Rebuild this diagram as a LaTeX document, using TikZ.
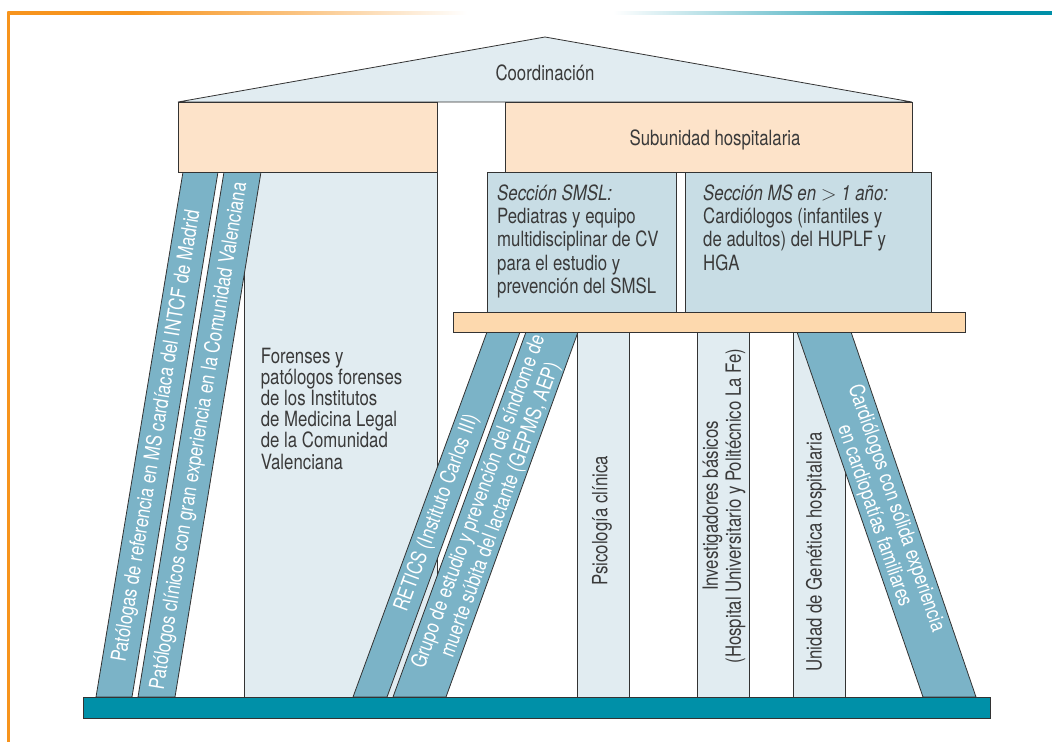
\documentclass[tikz,border=0pt]{standalone}
\usepackage{fontspec}
\setmainfont{TeX Gyre Heros}[FakeStretch=0.8]
\definecolor{forange}{HTML}{F7941D}
\definecolor{fteal}{HTML}{0090A8}
\definecolor{peach}{HTML}{FDE3C9}
\definecolor{plank}{HTML}{FDD9AE}
\definecolor{lightb}{HTML}{E1ECF1}
\definecolor{secb}{HTML}{C8DDE5}
\definecolor{slant}{HTML}{7BB3C7}
\definecolor{basec}{HTML}{0090A8}
\definecolor{lineg}{HTML}{333333}
\definecolor{textg}{HTML}{3A3A3A}
\pgfdeclarehorizontalshading{topbar}{100bp}{color(0bp)=(forange); color(25bp)=(forange); color(31bp)=(forange); color(39bp)=(forange!55!white); color(47bp)=(white); color(54bp)=(white); color(62bp)=(fteal!50!white); color(70bp)=(fteal); color(100bp)=(fteal)}
\tikzset{
  box/.style={draw=lineg, line width=0.8pt, line join=miter},
  txt/.style={inner sep=0pt, text=textg, font=\fontsize{21}{23}\selectfont},
  wtxt/.style={txt, text=white},
}
\begin{document}
\begin{tikzpicture}[x=1pt,y=-1pt]
\useasboundingbox (0,0) rectangle (1052,742);
\fill[white] (0,0) rectangle (1052,742);
% frame
\shade[shading=topbar] (7.3,11.9) rectangle (1052,14.8);
\fill[forange] (7.3,11.9) rectangle (10,742);
% roof
\filldraw[box, fill=lightb] (178,102) -- (545,37) -- (912,102) -- cycle;
% forenses column
\filldraw[box, fill=lightb] (244,172) rectangle (437,697);
% slanted left pillars
\filldraw[box, fill=slant] (183,172) -- (218,172) -- (132,697) -- (96,697) -- cycle;
\filldraw[box, fill=slant] (224,172) -- (261,172) -- (175,697) -- (138,697) -- cycle;
% top boxes
\filldraw[box, fill=peach] (178,102) rectangle (437,172);
\filldraw[box, fill=peach] (505,102) rectangle (912,172);
% sections
\filldraw[box, fill=secb] (487,172) rectangle (676,312);
\filldraw[box, fill=secb] (685,172) rectangle (931,312);
% vertical columns
\filldraw[box, fill=lightb] (577,332) rectangle (629,697);
\filldraw[box, fill=lightb] (697,332) rectangle (749,697);
\filldraw[box, fill=lightb] (793,332) rectangle (845,697);
% slanted middle/right pillars
\filldraw[box, fill=slant] (487,332) -- (520,332) -- (387,697) -- (353,697) -- cycle;
\filldraw[box, fill=slant] (526,332) -- (578,332) -- (446,697) -- (393,697) -- cycle;
\filldraw[box, fill=slant] (797,332) -- (851,332) -- (976,697) -- (923,697) -- cycle;
% plank
\filldraw[box, fill=plank] (453,312) rectangle (965,332);
% base
\filldraw[box, fill=basec] (83,697) rectangle (990,718);

% texts
\node[txt] (coord) at (545,73) {Coordinación};
\node[txt] (subu) at (715,140) {Subunidad hospitalaria};
\node[txt, anchor=base west, align=left, font=\fontsize{21}{23.3}\selectfont] (smsl) at (497,293.3) {\textit{Sección SMSL:}\\Pediatras y equipo\\multidisciplinar de CV\\para el estudio y\\prevención del SMSL};
\node[txt, anchor=base west, align=left, font=\fontsize{21}{23.3}\selectfont] (msec) at (703,270) {\textit{Sección MS en $>$ 1 año:}\\Cardiólogos (infantiles y\\de adultos) del HUPLF y\\HGA};
\node[txt, anchor=base west, align=left, font=\fontsize{21}{21.2}\selectfont] (foren) at (260.7,469) {Forenses y\\patólogos forenses\\de los Institutos\\de Medicina Legal\\de la Comunidad\\Valenciana};
\node[wtxt, rotate=80.65] (p1) at (157,436) {Patólogas de referencia en MS cardíaca del INTCF de Madrid};
\node[wtxt, rotate=80.7] (p2) at (199.5,436) {Patólogos clínicos con gran experiencia en la Comunidad Valenciana};
\node[wtxt, rotate=69.9] (retics) at (437,513) {RETICS (Instituto Carlos III)};
\node[wtxt, rotate=70, align=center] (grupo) at (490,506) {Grupo de estudio y prevención del síndrome de\\muerte súbita del lactante (GEPMS, AEP)};
\node[wtxt, rotate=-71, align=center] (cardio) at (885,512) {Cardiólogos con sólida experiencia\\en cardiopatías familiares};
\node[txt, rotate=90] (psico) at (602,521) {Psicología clínica};
\node[txt, rotate=90, align=center] (inv) at (724,506) {Investigadores básicos\\(Hospital Universitario y Politécnico La Fe)};
\node[txt, rotate=90] (gen) at (816,552) {Unidad de Genética hospitalaria};
\end{tikzpicture}
\end{document}
